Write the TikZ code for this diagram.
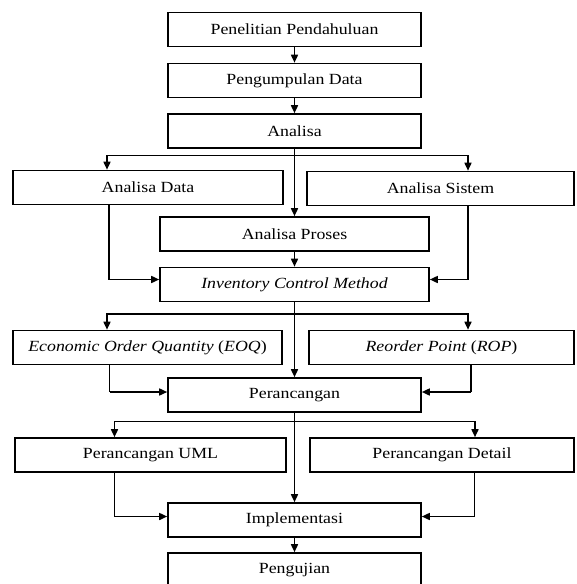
\documentclass[tikz,border=0pt]{standalone}
\usepackage{fontspec}
\setmainfont[FakeStretch=1.15]{Liberation Serif}
\usetikzlibrary{arrows.meta}
\begin{document}
\begin{tikzpicture}[x=1pt,y=-1pt,
  box/.style={draw,line width=1.6pt,rectangle,minimum height=34pt,inner sep=0pt,
    font=\fontsize{15.5}{18}\selectfont},
  conn/.style={line width=1.6pt,-{Triangle[length=8pt,width=7pt]}},
  plain/.style={line width=1.6pt}]
\useasboundingbox (0,0) rectangle (576,584);
\clip (0,0) rectangle (576,584);
\fill[white] (0,0) rectangle (576,584);
\node[box,minimum width=253pt] (pp) at (294.5,29.5) {Penelitian Pendahuluan};
\node[box,minimum width=253pt] (pd) at (294.5,80.5) {Pengumpulan Data};
\node[box,minimum width=253pt] (an) at (294.5,131) {Analisa};
\node[box,minimum width=270pt] (ad) at (148,187.5) {Analisa Data};
\node[box,minimum width=267pt] (as) at (440.5,188.5) {Analisa Sistem};
\node[box,minimum width=269pt] (ap) at (294.5,234) {Analisa Proses};
\node[box,minimum width=269pt] (icm) at (294.5,284.5) {\itshape Inventory Control Method};
\node[box,minimum width=269pt] (eoq) at (147.5,347.5) {\itshape Economic Order Quantity \upshape(\itshape EOQ\upshape)};
\node[box,minimum width=265pt] (rop) at (441.5,347.5) {\itshape Reorder Point \upshape(\itshape ROP\upshape)};
\node[box,minimum width=253pt] (per) at (294.5,395) {Perancangan};
\node[box,minimum width=271pt] (uml) at (150.5,455) {Perancangan UML};
\node[box,minimum width=264pt] (det) at (442,455) {Perancangan Detail};
\node[box,minimum width=253pt] (imp) at (294.5,520) {Implementasi};
\node[box,minimum width=253pt,minimum height=40pt,text depth=9pt] (uji) at (294.5,573) {Pengujian};
% coordinates
\coordinate (b1l) at (107,155.5);
\coordinate (b1r) at (468,155.5);
\coordinate (b1c) at (294.5,155.5);
\coordinate (adc) at (109,279.5);
\coordinate (asc) at (468,279.5);
\coordinate (b2l) at (107,314);
\coordinate (b2r) at (468,314);
\coordinate (b2c) at (294.5,314);
\coordinate (eoqc) at (109.5,392);
\coordinate (ropc) at (471,392);
\coordinate (b3l) at (114.5,421.5);
\coordinate (b3r) at (475,421.5);
\coordinate (b3c) at (294.5,421.5);
\coordinate (umlc) at (114.5,516.5);
\coordinate (detc) at (474.5,516.5);
% connectors
\draw[conn] (pp) -- (pd);
\draw[conn] (pd) -- (an);
\draw[conn] (an) -- (ap);
\draw[conn] (b1c) -- (b1l) -- (ad.north -| b1l);
\draw[conn] (b1c) -- (b1r) -- (as.north -| b1r);
\draw[plain] (ad.south -| adc) -- (adc);
\draw[conn] (adc) -- (adc -| icm.west);
\draw[plain] (as.south -| asc) -- (asc);
\draw[conn] (asc) -- (asc -| icm.east);
\draw[conn] (ap) -- (icm);
\draw[conn] (icm) -- (per);
\draw[conn] (b2c) -- (b2l) -- (eoq.north -| b2l);
\draw[conn] (b2c) -- (b2r) -- (rop.north -| b2r);
\draw[plain] (eoq.south -| eoqc) -- (eoqc);
\draw[conn] (eoqc) -- (eoqc -| per.west);
\draw[plain] (rop.south -| ropc) -- (ropc);
\draw[conn] (ropc) -- (ropc -| per.east);
\draw[conn] (per) -- (imp);
\draw[conn] (b3c) -- (b3l) -- (uml.north -| b3l);
\draw[conn] (b3c) -- (b3r) -- (det.north -| b3r);
\draw[plain] (uml.south -| umlc) -- (umlc);
\draw[conn] (umlc) -- (umlc -| imp.west);
\draw[plain] (det.south -| detc) -- (detc);
\draw[conn] (detc) -- (detc -| imp.east);
\draw[conn] (imp) -- (uji);
\end{tikzpicture}
\end{document}
